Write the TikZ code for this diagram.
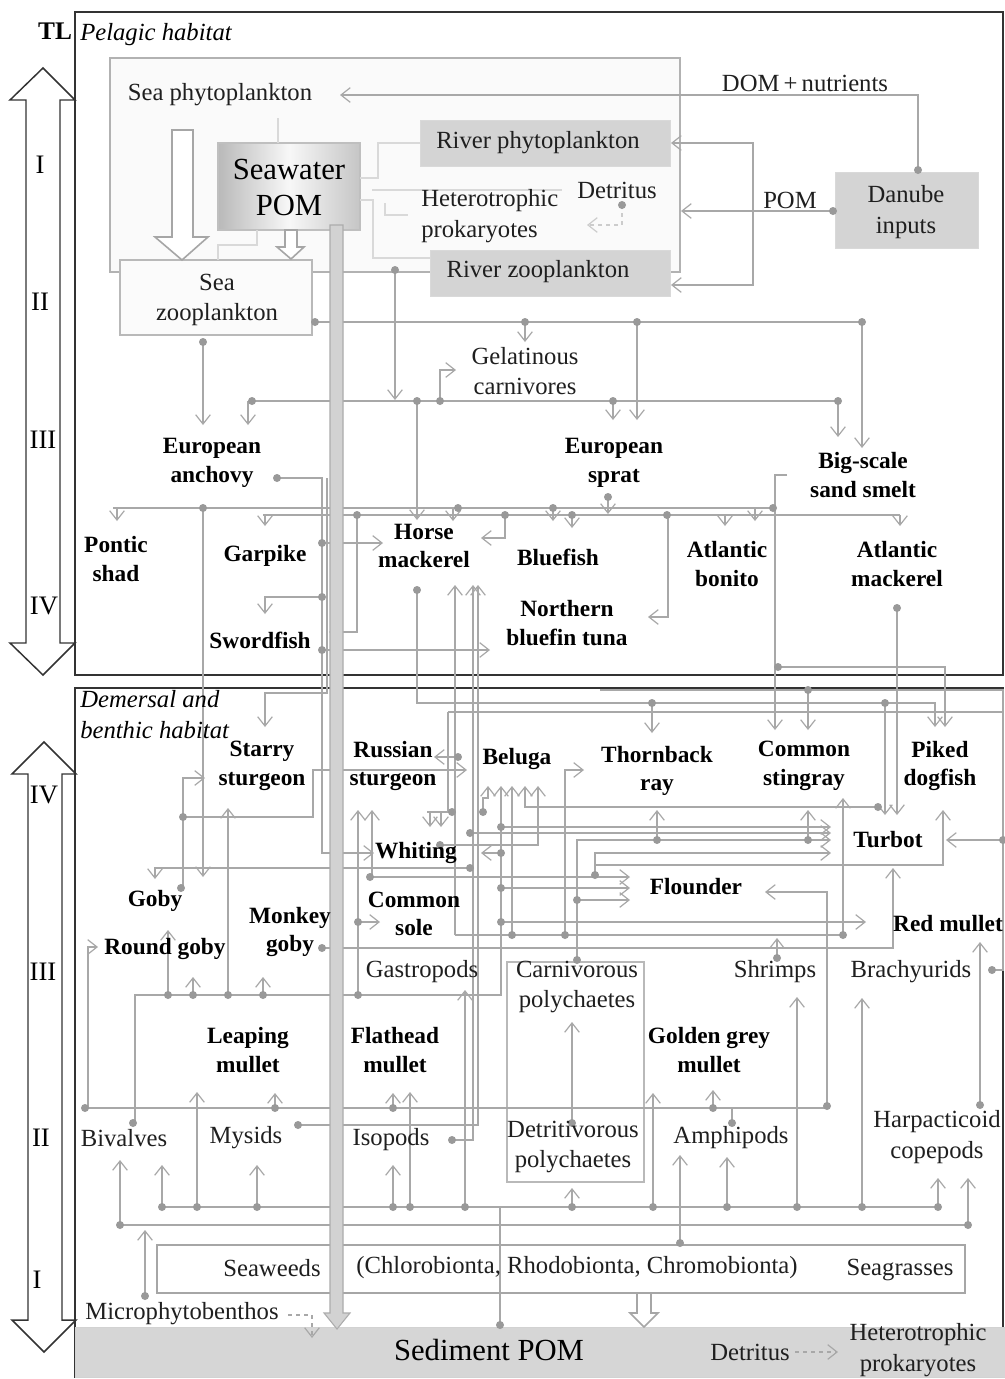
\documentclass[tikz,border=0pt]{standalone}
\usepackage{fontspec}
\setmainfont{Liberation Serif}
\usetikzlibrary{arrows.meta}
\definecolor{lcol}{HTML}{A8A8A8}
\definecolor{dcol}{HTML}{999999}
\definecolor{boxg}{HTML}{D4D4D4}
\definecolor{frm}{HTML}{333333}
\begin{document}
\begin{tikzpicture}[x=0.75pt,y=-0.75pt,
  conn/.style={draw=lcol, line width=1.1pt},
  arr/.style={conn, -{Straight Barb[length=7pt,width=11pt,line width=0.9pt]}},
  dsh/.style={arr, dashed},
  nt/.style={font=\fontsize{18.5}{23}\selectfont, align=center, inner sep=0pt, text=black!88},
  bt/.style={font=\fontsize{17.5}{21.5}\selectfont\bfseries, align=center, inner sep=0pt},
  lt/.style={font=\fontsize{23}{27}\selectfont, align=center, inner sep=0pt},
  itx/.style={font=\fontsize{18.5}{23}\selectfont\itshape, align=left, inner sep=0pt},
  rn/.style={font=\fontsize{20}{24}\selectfont, inner sep=0pt},
  blk/.style={draw=frm, line width=1.1pt},
  hol/.style={draw=gray!70, line width=1.2pt, fill=white}]
\useasboundingbox (0,0) rectangle (1005,1379);
\fill[white] (0,0) rectangle (1005,1379);

% ---- left trophic level arrows
\draw[blk, fill=white] (43,68) -- (75,100) -- (60,100) -- (60,643) -- (75,643) -- (43,675) -- (10,643) -- (26,643) -- (26,100) -- (10,100) -- cycle;
\draw[blk, fill=white] (44,742) -- (76,774) -- (62,774) -- (62,1320) -- (76,1320) -- (44,1352) -- (12,1320) -- (28,1320) -- (28,774) -- (12,774) -- cycle;

% ---- frames
\draw[blk] (75,12) rectangle (1003,675);
\draw[blk] (75,688) rectangle (1003,1377);

% ---- pelagic boxes
\draw[draw=gray!60, line width=1.6pt, fill=gray!4] (110,58) rectangle (680,272);
\shade[left color=gray!55, right color=gray!45, middle color=gray!6] (218,143) rectangle (360,230);
\draw[gray!50, line width=0.8pt] (218,143) rectangle (360,230);
\draw[draw=gray!30, fill=boxg] (420,120) rectangle (670,166);
\draw[draw=gray!30, fill=boxg] (430,250) rectangle (670,296);
\draw[draw=gray!30, fill=boxg] (835,172) rectangle (978,248);
\draw[draw=gray!55, line width=1.5pt, fill=gray!3] (120,260) rectangle (312,335);

% ---- demersal boxes
\draw[draw=gray!35, fill=gray!32] (75,1327) rectangle (1005,1377);
\draw[draw=gray!70, line width=1.6pt, fill=white] (157,1245) rectangle (965,1293);
\draw[draw=gray!55, line width=0.8pt] (507,962) rectangle (644,1182);

% ---- pelagic connectors
\draw[arr] (918,170) -- (918,95) -- (340,95);
\draw[arr] (833,211) -- (681,211);
\draw[arr] (753,211) -- (753,143) -- (671,143);
\draw[arr] (753,211) -- (753,285) -- (671,285);
\draw[conn, draw=gray!30] (278,118) -- (278,143);
\draw[conn, draw=gray!30] (360,178) -- (378,178) -- (378,143) -- (420,143);
\draw[conn, draw=gray!30] (372,190) -- (562,190);
\draw[conn, draw=gray!30] (360,200) -- (373,200) -- (373,258) -- (430,258);
\draw[conn, draw=gray!30] (385,203) -- (385,215) -- (408,215);
\draw[conn, draw=gray!30] (257,230) -- (257,245) -- (218,245) -- (218,260);
\draw[dsh, draw=gray!40] (622,205) -- (622,225) -- (587,225);
\draw[conn] (315,322) -- (862,322);
\draw[arr] (525,322) -- (525,342);
\draw[arr] (637,322) -- (637,420);
\draw[arr] (862,322) -- (862,448);
\draw[arr] (203,342) -- (203,425);
\draw[arr] (395,270) -- (395,400);
\draw[conn] (252,401) -- (838,401);
\draw[arr] (248,401) -- (248,425);
\draw[arr] (613,401) -- (613,420);
\draw[arr] (838,401) -- (838,437);
\draw[arr] (440,401) -- (440,370) -- (456,370);
\draw[arr] (417,401) -- (417,520);
\draw[conn] (113,508) -- (775,508);
\draw[arr] (117,508) -- (117,521);
\draw[arr] (453,508) -- (453,521);
\draw[arr] (553,508) -- (553,521);
\draw[arr] (755,508) -- (755,521);
\draw[conn] (263,515) -- (900,515);
\draw[arr] (265,515) -- (265,526);
\draw[arr] (572,515) -- (572,528);
\draw[arr] (725,515) -- (725,526);
\draw[arr] (900,515) -- (900,526);
\draw[arr] (608,497) -- (608,514);
\draw[arr] (203,508) -- (203,877);
\draw[arr] (277,478) -- (322,478) -- (322,853) -- (374,853);
\draw[arr] (322,543) -- (383,543);
\draw[arr] (322,597) -- (265,597) -- (265,614);
\draw[arr] (322,650) -- (490,650);
\draw[arr] (357,515) -- (357,632) -- (329,632);
\draw[arr] (668,515) -- (668,617) -- (648,617);
\draw[arr] (505,515) -- (505,538) -- (481,538);
\draw[arr] (787,475) -- (775,475) -- (775,730);
\draw[arr] (778,667) -- (945,667) -- (945,727);
\draw[arr] (897,608) -- (897,815);
\draw[arr] (417,590) -- (417,703) -- (935,703) -- (935,727);
\draw[arr] (652,703) -- (652,733);
\draw[arr] (885,703) -- (885,815);
\draw[arr] (327,478) -- (327,693) -- (265,693) -- (265,727);

% ---- demersal connectors
\draw[conn] (600,690) -- (1003,690) -- (1003,970) -- (992,970);
\draw[arr] (808,690) -- (808,730);
\draw[conn] (448,712) -- (1003,712);
\draw[conn] (448,712) -- (448,812);
\draw[conn] (427,812) -- (452,812);
\draw[arr] (430,812) -- (430,827);
\draw[arr] (441,812) -- (441,827);
\draw[arr] (1003,840) -- (946,840);
\draw[arr] (183,888) -- (183,778) -- (205,778);
\draw[arr] (183,817) -- (313,817) -- (313,770) -- (467,770);
\draw[arr] (458,757) -- (434,757);
\draw[arr] (470,868) -- (155,868) -- (155,879);
\draw[arr] (88,1108) -- (88,947) -- (98,947);
\draw[conn] (135,1123) -- (135,995) -- (501,995) -- (501,922);
\draw[arr] (168,995) -- (168,930);
\draw[arr] (193,995) -- (193,977);
\draw[arr] (228,995) -- (228,808);
\draw[arr] (263,995) -- (263,977);
\draw[arr] (358,995) -- (358,922) -- (380,922);
\draw[arr] (358,922) -- (358,810);
\draw[arr] (372,877) -- (372,810);
\draw[arr] (370,877) -- (630,877);
\draw[arr] (501,922) -- (501,786);
\draw[arr] (501,827) -- (831,827);
\draw[arr] (501,853) -- (481,853);
\draw[arr] (501,888) -- (630,888);
\draw[arr] (501,922) -- (866,922);
\draw[arr] (470,833) -- (831,833);
\draw[arr] (483,812) -- (483,798) -- (488,798) -- (488,786);
\draw[arr] (455,935) -- (455,585);
\draw[conn] (455,935) -- (843,935);
\draw[arr] (512,935) -- (512,786);
\draw[arr] (565,935) -- (565,770) -- (584,770);
\draw[arr] (843,935) -- (843,798);
\draw[arr] (878,807) -- (525,807) -- (525,786);
\draw[arr] (440,845) -- (538,845) -- (538,786);
\draw[arr] (577,960) -- (577,840) -- (831,840);
\draw[arr] (657,840) -- (657,810);
\draw[arr] (808,840) -- (808,810);
\draw[arr] (577,900) -- (630,900);
\draw[arr] (595,875) -- (595,853) -- (831,853);
\draw[arr] (595,865) -- (943,865) -- (943,810);
\draw[arr] (827,1106) -- (827,892) -- (765,892);
\draw[arr] (322,948) -- (893,948) -- (893,868);
\draw[arr] (777,958) -- (777,938);
\draw[conn] (85,1108) -- (827,1108);
\draw[arr] (275,1108) -- (275,1093);
\draw[arr] (393,1108) -- (393,1093);
\draw[arr] (713,1108) -- (713,1090);
\draw[arr] (298,1125) -- (478,1125) -- (478,585);
\draw[arr] (452,1140) -- (473,1140) -- (473,585);
\draw[conn] (162,1207) -- (938,1207);
\draw[arr] (162,1207) -- (162,1165);
\draw[arr] (197,1207) -- (197,1092);
\draw[arr] (257,1207) -- (257,1165);
\draw[arr] (393,1207) -- (393,1165);
\draw[arr] (410,1207) -- (410,1092);
\draw[arr] (465,1207) -- (465,990);
\draw[arr] (572,1207) -- (572,1188);
\draw[arr] (653,1207) -- (653,1093);
\draw[arr] (727,1207) -- (727,1157);
\draw[arr] (797,1207) -- (797,997);
\draw[arr] (862,1207) -- (862,998);
\draw[arr] (938,1207) -- (938,1178);
\draw[conn] (500,1325) -- (500,1207);
\draw[conn] (120,1225) -- (968,1225);
\draw[arr] (120,1225) -- (120,1160);
\draw[arr] (968,1225) -- (968,1178);
\draw[arr] (145,1296) -- (145,1230);
\draw[arr] (680,1243) -- (680,1155);
\draw[arr] (572,1123) -- (572,1022);
\draw[arr] (980,1105) -- (980,942);
\draw[conn] (732,1123) -- (732,1108);
\draw[dsh] (288,1315) -- (312,1315) -- (312,1338);
\draw[dsh] (795,1352) -- (838,1352);

% ---- dots
\foreach \p in {(918,170),(833,211),(622,205),(315,322),(525,322),(637,322),(862,322),(203,342),(395,270),
  (252,401),(417,401),(440,401),(613,401),(838,401),(203,508),(458,508),(553,508),(773,508),
  (357,515),(505,515),(572,515),(667,515),(608,497),(277,478),(322,543),(322,597),(322,650),
  (778,667),(897,608),(417,590),(652,703),(885,703),(808,690),(992,970),(452,812),(1003,840),
  (181,888),(183,817),(458,757),(470,868),(85,1108),(133,1123),(168,995),(193,995),(228,995),(263,995),
  (358,995),(358,922),(501,922),(370,877),(501,827),(501,853),(501,888),(470,833),(483,812),
  (512,935),(565,935),(843,935),(878,807),(440,845),(577,960),(657,840),(808,840),(577,900),(595,875),
  (827,1106),(322,948),(777,958),(275,1108),(393,1108),(713,1108),(298,1125),(452,1140),
  (162,1207),(197,1207),(257,1207),(393,1207),(410,1207),(465,1207),(572,1207),(653,1207),(727,1207),
  (797,1207),(862,1207),(938,1207),(500,1325),(120,1225),(968,1225),(145,1296),(680,1243),(572,1123),
  (980,1105),(732,1123)}
  \fill[dcol] \p circle[radius=3pt];

% ---- POM flow bar and hollow arrows
\draw[draw=gray!65, fill=gray!35, line width=0.8pt] (330,225) -- (343,225) -- (343,1313) -- (350,1313) -- (337,1329) -- (324,1313) -- (330,1313) -- cycle;
\draw[hol] (172,130) -- (193,130) -- (193,237) -- (208,237) -- (182,260) -- (155,237) -- (172,237) -- cycle;
\draw[hol] (285,230) -- (297,230) -- (297,247) -- (304,247) -- (291,259) -- (277,247) -- (285,247) -- cycle;
\draw[hol] (637,1293) -- (651,1293) -- (651,1313) -- (658,1313) -- (644,1327) -- (630,1313) -- (637,1313) -- cycle;

% ---- labels
\node[font=\fontsize{19}{23}\selectfont\bfseries, inner sep=0pt] (tl) at (55,31) {TL};
\node[itx, anchor=west] (pel) at (80,35) {Pelagic habitat};
\node[itx, anchor=north west] (dem) at (80,690) {Demersal and\\benthic habitat};
\node[rn] (r1a) at (40,165) {I};
\node[rn] (r2a) at (40,302) {II};
\node[rn] (r3a) at (43,440) {III};
\node[rn] (r4a) at (44,606) {IV};
\node[rn] (r4b) at (44,795) {IV};
\node[rn] (r3b) at (43,972) {III};
\node[rn] (r2b) at (41,1138) {II};
\node[rn] (r1b) at (37,1280) {I};

\node[nt] (seaphy) at (220,95) {Sea phytoplankton};
\node[lt] (swpom) at (289,187) {Seawater\\POM};
\node[nt] (rphy) at (538,143) {River phytoplankton};
\node[nt, anchor=west, align=left] (hetp) at (421,216) {Heterotrophic\\prokaryotes};
\node[nt] (detr) at (617,190) {Detritus};
\node[nt] (rzoo) at (538,272) {River zooplankton};
\node[nt] (dom) at (805,83) {DOM\,+\,nutrients};
\node[nt] (pom) at (790,200) {POM};
\node[nt] (danube) at (906,212) {Danube\\inputs};
\node[nt] (seazoo) at (217,300) {Sea\\zooplankton};
\node[nt] (gel) at (525,371) {Gelatinous\\carnivores};
\node[bt] (anch) at (212,463) {European\\anchovy};
\node[bt] (sprat) at (614,463) {European\\sprat};
\node[bt] (smelt) at (863,475) {Big-scale\\sand smelt};
\node[bt] (shad) at (116,559) {Pontic\\shad};
\node[bt] (garp) at (265,556) {Garpike};
\node[bt] (horse) at (424,546) {Horse\\mackerel};
\node[bt] (bluef) at (558,557) {Bluefish};
\node[bt] (bonito) at (727,564) {Atlantic\\bonito};
\node[bt] (amack) at (897,564) {Atlantic\\mackerel};
\node[bt] (tuna) at (567,623) {Northern\\bluefin tuna};
\node[bt] (sword) at (260,640) {Swordfish};

\node[bt] (starry) at (262,766) {Starry\\sturgeon};
\node[bt] (russ) at (393,766) {Russian\\sturgeon};
\node[bt] (beluga) at (517,759) {Beluga};
\node[bt] (thorn) at (657,771) {Thornback\\ray};
\node[bt] (sting) at (804,766) {Common\\stingray};
\node[bt] (piked) at (940,766) {Piked\\dogfish};
\node[bt] (whit) at (416,853) {Whiting};
\node[bt] (turbot) at (888,840) {Turbot};
\node[bt] (flound) at (696,887) {Flounder};
\node[bt] (goby) at (155,901) {Goby};
\node[bt] (sole) at (414,914) {Common\\sole};
\node[bt] (monk) at (290,932) {Monkey\\goby};
\node[bt] (round) at (165,949) {Round goby};
\node[bt] (redm) at (948,924) {Red mullet};
\node[nt] (gast) at (422,972) {Gastropods};
\node[nt] (carn) at (577,987) {Carnivorous\\polychaetes};
\node[nt] (shr) at (775,972) {Shrimps};
\node[nt] (brach) at (911,972) {Brachyurids};
\node[bt] (leap) at (248,1050) {Leaping\\mullet};
\node[bt] (flat) at (395,1050) {Flathead\\mullet};
\node[bt] (golden) at (709,1050) {Golden grey\\mullet};
\node[nt] (biv) at (124,1138) {Bivalves};
\node[nt] (mys) at (246,1138) {Mysids};
\node[nt] (iso) at (391,1140) {Isopods};
\node[nt] (detp) at (573,1147) {Detritivorous\\polychaetes};
\node[nt] (amph) at (731,1138) {Amphipods};
\node[nt] (harp) at (937,1137) {Harpacticoid\\copepods};
\node[nt] (seaw) at (272,1268) {Seaweeds};
\node[nt] (chloro) at (577,1268) {(Chlorobionta, Rhodobionta, Chromobionta)};
\node[nt] (seag) at (900,1270) {Seagrasses};
\node[nt] (micro) at (182,1314) {Microphytobenthos};
\node[lt] (sedpom) at (489,1350) {Sediment POM};
\node[nt] (detr2) at (750,1352) {Detritus};
\node[nt] (hetp2) at (918,1350) {Heterotrophic\\prokaryotes};
\end{tikzpicture}
\end{document}
